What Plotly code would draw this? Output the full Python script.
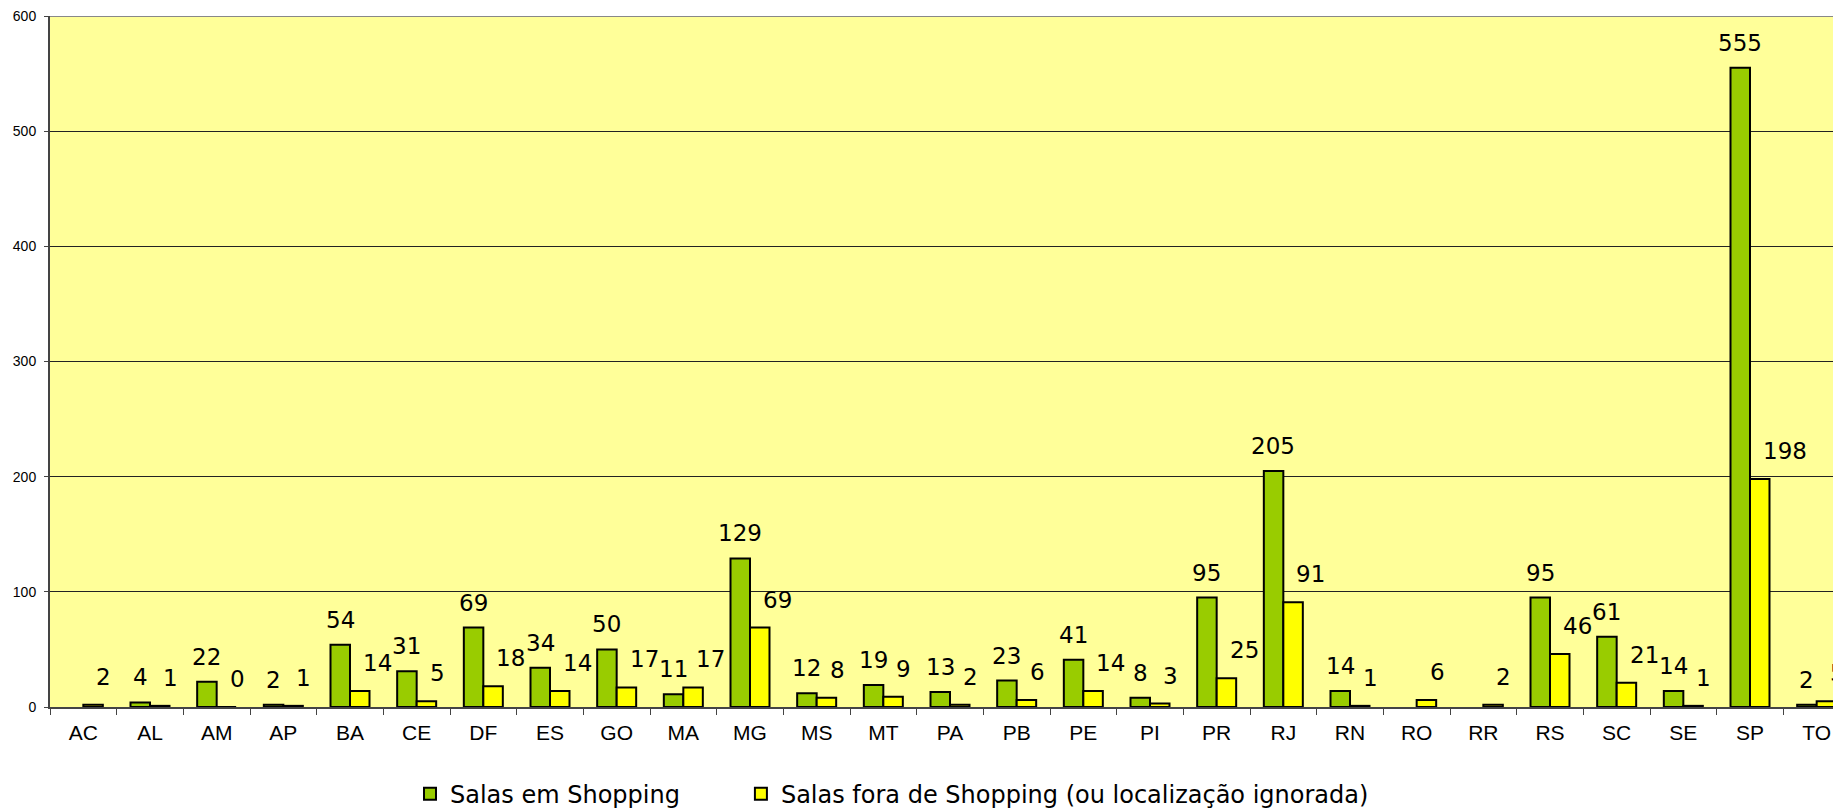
import plotly.graph_objects as go

categories = ["AC", "AL", "AM", "AP", "BA", "CE", "DF", "ES", "GO", "MA", "MG", "MS", "MT", "PA",
              "PB", "PE", "PI", "PR", "RJ", "RN", "RO", "RR", "RS", "SC", "SE", "SP", "TO"]
salas_shopping = [None, 4, 22, 2, 54, 31, 69, 34, 50, 11, 129, 12, 19, 13,
                  23, 41, 8, 95, 205, 14, None, None, 95, 61, 14, 555, 2]
salas_fora = [2, 1, 0, 1, 14, 5, 18, 14, 17, 17, 69, 8, 9, 2,
              6, 14, 3, 25, 91, 1, 6, 2, 46, 21, 1, 198, 5]
y_ticks = [0, 100, 200, 300, 400, 500, 600]

name_green = "Salas em Shopping"
name_yellow = "Salas fora de Shopping (ou localização ignorada)"

fig = go.Figure()
fig.add_trace(go.Bar(x=categories, y=salas_shopping, name=name_green, legend="legend",
                     marker=dict(color="#99CC00", line=dict(color="#000000", width=2))))
fig.add_trace(go.Bar(x=categories, y=salas_fora, name=name_yellow, legend="legend2",
                     marker=dict(color="#FFFF00", line=dict(color="#000000", width=2))))

label_font = dict(family="DejaVu Sans, Verdana, sans-serif", size=23, color="#000000")
annotations = []
for c, v in zip(categories, salas_shopping):
    if v is not None:
        annotations.append(dict(x=c, y=v, xref="x", yref="y", text=str(v), showarrow=False,
                                xanchor="center", yanchor="bottom", xshift=-10, yshift=10,
                                font=label_font))
for c, v in zip(categories, salas_fora):
    if v is not None:
        annotations.append(dict(x=c, y=v, xref="x", yref="y", text=str(v), showarrow=False,
                                xanchor="left", yanchor="bottom", xshift=11, yshift=13,
                                font=label_font))

legend_font = dict(family="DejaVu Sans, Verdana, sans-serif", size=24, color="#000000")

fig.update_layout(
    width=1833, height=809,
    margin=dict(l=50, r=0, t=16, b=102),
    paper_bgcolor="#FFFFFF",
    plot_bgcolor="#FFFF99",
    barmode="group",
    bargap=0.415,
    bargroupgap=0,
    annotations=annotations,
    showlegend=True,
    legend=dict(orientation="h", x=0.2019, xanchor="left", yref="container", y=0.0185,
                yanchor="middle", font=legend_font, bgcolor="rgba(0,0,0,0)"),
    legend2=dict(orientation="h", x=0.3875, xanchor="left", yref="container", y=0.0185,
                 yanchor="middle", font=legend_font, bgcolor="rgba(0,0,0,0)"),
    xaxis=dict(range=[-0.5, 26.245], showline=True, linecolor="#444444", linewidth=2,
               ticks="outside", tickson="boundaries", ticklen=6, tickcolor="#444444",
               ticklabelstandoff=6, automargin=False,
               tickfont=dict(family="Liberation Sans, Arial, sans-serif", size=21, color="#000000"),
               showgrid=False, fixedrange=True),
    yaxis=dict(range=[0, 600], tickvals=y_ticks, showline=True, linecolor="#444444", linewidth=2,
               ticks="outside", ticklen=4, tickcolor="#444444", ticklabelstandoff=5,
               automargin=False,
               tickfont=dict(family="Liberation Sans, Arial, sans-serif", size=14, color="#000000"),
               showgrid=True, gridcolor="#222222", gridwidth=1, zeroline=False),
    shapes=[dict(type="line", xref="paper", yref="y", x0=0, x1=1, y0=600, y1=600,
                 line=dict(color="#888888", width=2))],
)

fig.write_html("out.html", config={"displayModeBar": False},
               post_script="document.body.style.margin='0';document.body.style.overflow='hidden';")
